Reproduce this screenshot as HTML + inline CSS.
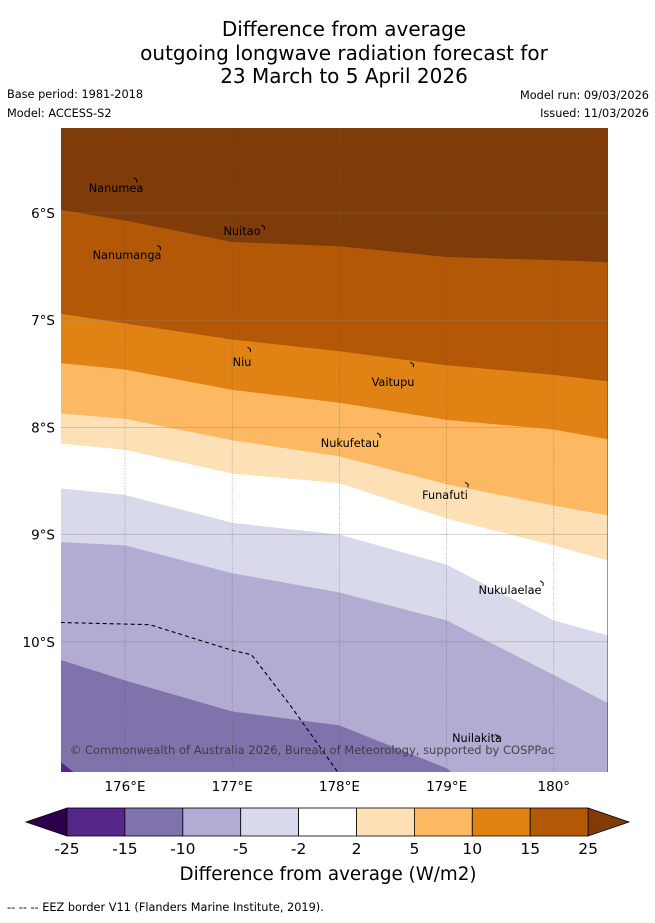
<!DOCTYPE html>
<html><head><meta charset="utf-8">
<style>
body{margin:0;background:#fff;font-family:"DejaVu Sans","Liberation Sans",sans-serif;}
svg text{font-family:"DejaVu Sans","Liberation Sans",sans-serif;}
</style></head>
<body>
<svg id="chart" width="655" height="919" viewBox="0 0 655 919" xmlns="http://www.w3.org/2000/svg">
<g font-size="20" text-anchor="middle" fill="#000">
<text x="344" y="36">Difference from average</text>
<text x="344" y="60">outgoing longwave radiation forecast for</text>
<text x="344" y="83">23 March to 5 April 2026</text>
</g>
<g font-size="11.3" fill="#000">
<text x="7" y="98">Base period: 1981-2018</text>
<text x="7" y="117">Model: ACCESS-S2</text>
<text x="649" y="99" text-anchor="end">Model run: 09/03/2026</text>
<text x="649" y="117" text-anchor="end">Issued: 11/03/2026</text>
</g>
<defs><clipPath id="mapclip"><rect x="61" y="128" width="547" height="644"/></clipPath></defs>
<g id="map" clip-path="url(#mapclip)"></g>
<g id="axes"></g>
<g id="cbar"></g>
<text x="328" y="880" font-size="18.3" text-anchor="middle">Difference from average (W/m2)</text>
<text x="7" y="911" font-size="11.3">-- -- -- EEZ border V11 (Flanders Marine Institute, 2019).</text>
</svg>
<script>
// Data
const lonSamples=[175.4,176,177,178,179,180,180.5];
const contourLevels=[25,15,10,5,2,-2,-5,-10,-15];
const contour25=[5.97,6.07,6.27,6.31,6.41,6.44,6.46];
const contour15=[6.94,7.03,7.18,7.29,7.42,7.51,7.57];
const contour10=[7.40,7.46,7.65,7.77,7.93,8.02,8.11];
const contour5=[7.87,7.92,8.12,8.27,8.53,8.73,8.82];
const contour2=[8.15,8.21,8.43,8.52,8.85,9.10,9.24];
const contourM2=[8.57,8.63,8.89,9.00,9.28,9.80,9.94];
const contourM5=[9.07,9.10,9.36,9.54,9.80,10.31,10.57];
const contourM10=[10.17,10.36,10.65,10.78,11.18,11.9,12.0];
const contourM15=[11.12,11.6,12,12,12,12,12];
const bandColors=['#7f3b08','#b35806','#e08214','#fdb863','#fee0b6','#ffffff','#d8daeb','#b2abd2','#8073ac','#542788'];
const eezLon=[175.4,176.23,177.0,177.18,177.54,177.96,178.1];
const eezLat=[9.82,9.84,10.08,10.12,10.59,11.18,11.4];
const lonTicks=[176,177,178,179,180];
const lonTickLabels=['176°E','177°E','178°E','179°E','180°'];
const latTicks=[6,7,8,9,10];
const latTickLabels=['6°S','7°S','8°S','9°S','10°S'];
const islandNames=['Nanumea','Nuitao','Nanumanga','Niu','Vaitupu','Nukufetau','Funafuti','Nukulaelae','Nuilakita'];
const islandLon=[176.11,177.30,176.33,177.17,178.69,178.38,179.20,179.90,179.48];
const islandLat=[5.69,6.13,6.32,7.27,7.41,8.07,8.53,9.45,10.88];
const cbarLevels=['-25','-15','-10','-5','-2','2','5','10','15','25'];
const cbarColors=['#542788','#8073ac','#b2abd2','#d8daeb','#ffffff','#fee0b6','#fdb863','#e08214','#b35806'];
// label positions (pixels) for island names
const labelX=[116,242,127,242,393,350,445,510,477];
const labelY=[192,235,259,366,386,447,499,594,742];

const NS='http://www.w3.org/2000/svg';
const xS=lon=>125+(lon-176)*107.2;
const yS=lat=>213+(lat-6)*107.2;
function mk(tag,attrs,parent){const e=document.createElementNS(NS,tag);for(const k in attrs)e.setAttribute(k,attrs[k]);parent.appendChild(e);return e;}
const map=document.getElementById('map');
const contours=[contour25,contour15,contour10,contour5,contour2,contourM2,contourM5,contourM10,contourM15];
let bg=mk('rect',{x:61,y:128,width:547,height:644,fill:bandColors[9]},map);


for(let i=contours.length-1;i>=0;i--){
  let d='M'+xS(lonSamples[0])+',100 L'+xS(lonSamples[lonSamples.length-1])+',100';
  for(let j=lonSamples.length-1;j>=0;j--) d+=' L'+xS(lonSamples[j])+','+yS(contours[i][j]);
  d+=' Z';
  const p=mk('path',{d:d,fill:bandColors[i]},map);
  
  
}
// grid
lonTicks.forEach((l,i)=>{
  const g=mk('line',{x1:xS(l),x2:xS(l),y1:128,y2:772,stroke:'#555','stroke-width':0.6,'stroke-dasharray':'1,1.5','stroke-opacity':0.7},map);
  
  
});
latTicks.forEach(l=>{
  const g=mk('line',{x1:61,x2:608,y1:yS(l),y2:yS(l),stroke:'#888','stroke-width':0.6,'stroke-opacity':0.6},map);
  
  
});
// EEZ
const eez=mk('polyline',{points:eezLon.map((l,i)=>xS(l)+','+yS(eezLat[i])).join(' '),fill:'none',stroke:'#000','stroke-width':1.1,'stroke-dasharray':'4,3'},map);


// islands
islandNames.forEach((n,i)=>{
  const x=xS(islandLon[i]),y=yS(islandLat[i]);
  const m=mk('path',{d:'M'+(x-3)+','+(y-2)+' l3,2 l0,3',stroke:'#000','stroke-width':1,fill:'none'},map);
  
  
  const t=mk('text',{x:labelX[i],y:labelY[i],'font-size':11.3,'text-anchor':'middle',fill:'#000'},map);
  t.textContent=n;
  
  
});
const cr=mk('text',{x:312,y:754,'font-size':11.5,'text-anchor':'middle',fill:'#333','fill-opacity':0.85},map);
cr.textContent='© Commonwealth of Australia 2026, Bureau of Meteorology, supported by COSPPac';


// axes labels
const ax=document.getElementById('axes');
lonTicks.forEach((l,i)=>{
  const t=mk('text',{x:xS(l),y:791,'font-size':13.5,'text-anchor':'middle'},ax);
  t.textContent=lonTickLabels[i];
  
  
});
latTicks.forEach((l,i)=>{
  const t=mk('text',{x:55,y:yS(l)+5,'font-size':13.5,'text-anchor':'end'},ax);
  t.textContent=latTickLabels[i];
  
  
});
// colorbar
const cb=document.getElementById('cbar');
const cx0=67,cw=57.9,cy=808,ch=28;
const lt=mk('polygon',{points:'26,822 '+cx0+','+cy+' '+cx0+','+(cy+ch),fill:'#2d004b',stroke:'#000','stroke-width':0.8},cb);


const xe=cx0+cw*cbarColors.length;
const rt=mk('polygon',{points:xe+','+cy+' 629,822 '+xe+','+(cy+ch),fill:'#7f3b08',stroke:'#000','stroke-width':0.8},cb);


cbarColors.forEach((c,i)=>{
  const r=mk('rect',{x:cx0+i*cw,y:cy,width:cw,height:ch,fill:c,stroke:'#000','stroke-width':0.8},cb);
  
  
});
cbarLevels.forEach((l,i)=>{
  const t=mk('text',{x:cx0+i*cw,y:854,'font-size':15.5,'text-anchor':'middle'},cb);
  t.textContent=l;
  
  
});
</script>
</body></html>
